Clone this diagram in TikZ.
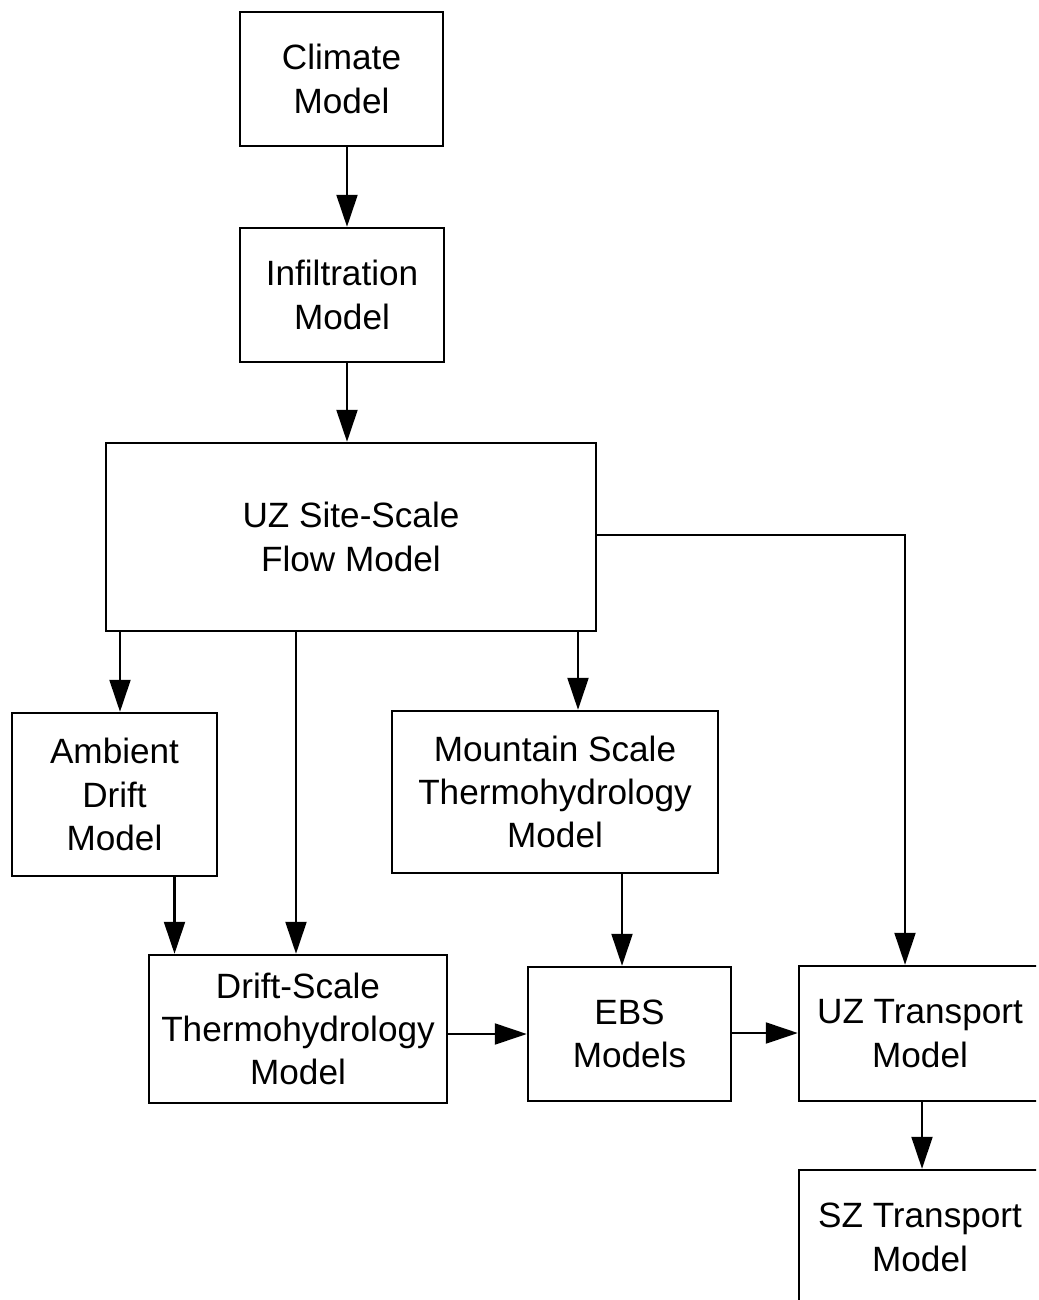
\documentclass[tikz,border=0pt]{standalone}
\usepackage{fontspec}
\setmainfont{Liberation Sans}
\usepackage{tikz}
\usetikzlibrary{arrows.meta,calc}

\begin{document}
\begin{tikzpicture}[
    model box/.style={rectangle, draw, line width=0.7pt, inner sep=0pt, align=center,
        font=\fontsize{10}{12.3}\selectfont},
    flow/.style={line width=0.6pt, -{Triangle[length=3.2mm,width=2.1mm]}}
]
\useasboundingbox (0,0) rectangle (10.38,-13);
\clip (0,0) rectangle (10.36,-13);

% top chain
\node[model box, minimum width=2.03cm, minimum height=1.34cm] (climate) at (3.415,-0.79) {Climate\\Model};
\node[model box, minimum width=2.04cm, minimum height=1.34cm] (infil) at (3.42,-2.95) {Infiltration\\Model};
\node[model box, minimum width=4.90cm, minimum height=1.88cm] (uzflow) at (3.51,-5.37) {UZ Site-Scale\\Flow Model};

% middle row
\node[model box, minimum width=2.05cm, minimum height=1.63cm] (ambient) at (1.145,-7.945) {Ambient\\Drift\\Model};
\node[model box, minimum width=3.26cm, minimum height=1.62cm] (mountain) at (5.55,-7.92) {Mountain Scale\\Thermohydrology\\Model};

% bottom row
\node[model box, minimum width=2.98cm, minimum height=1.48cm] (driftth) at (2.98,-10.29) {Drift-Scale\\Thermohydrology\\Model};
\node[model box, minimum width=2.03cm, minimum height=1.34cm] (ebs) at (6.295,-10.34) {EBS\\Models};
\node[model box, minimum width=2.42cm, minimum height=1.35cm] (uztrans) at (9.20,-10.335) {UZ Transport\\Model};
\node[model box, minimum width=2.42cm, minimum height=1.35cm] (sztrans) at (9.20,-12.375) {SZ Transport\\Model};

% connectors
\draw[flow] ([xshift=0.055cm]climate.south) -- ([xshift=0.055cm]climate.south |- infil.north);
\draw[flow] ([xshift=0.05cm]infil.south) -- ([xshift=0.05cm]infil.south |- uzflow.north);
\draw[flow] ([xshift=0.055cm]uzflow.south -| ambient.north) -- ([xshift=0.055cm]ambient.north);
\draw[flow] ([xshift=-0.02cm]uzflow.south -| driftth.north) -- ([xshift=-0.02cm]driftth.north);
\draw[flow] ([xshift=0.23cm]uzflow.south -| mountain.north) -- ([xshift=0.23cm]mountain.north);
\draw[flow] ([yshift=0.02cm]uzflow.east) -| ([xshift=-0.15cm]uztrans.north);
\draw[flow] ([xshift=0.6cm]ambient.south) -- ([xshift=0.6cm]ambient.south |- driftth.north);
\draw[flow] ([xshift=-0.075cm]mountain.south -| ebs.north) -- ([xshift=-0.075cm]ebs.north);
\draw[flow] (driftth.east |- ebs.west) -- (ebs.west);
\draw[flow] ([yshift=0.01cm]ebs.east) -- ([yshift=0.01cm]ebs.east -| uztrans.west);
\draw[flow] ([xshift=0.02cm]uztrans.south) -- ([xshift=0.02cm]sztrans.north);
\end{tikzpicture}
\end{document}
